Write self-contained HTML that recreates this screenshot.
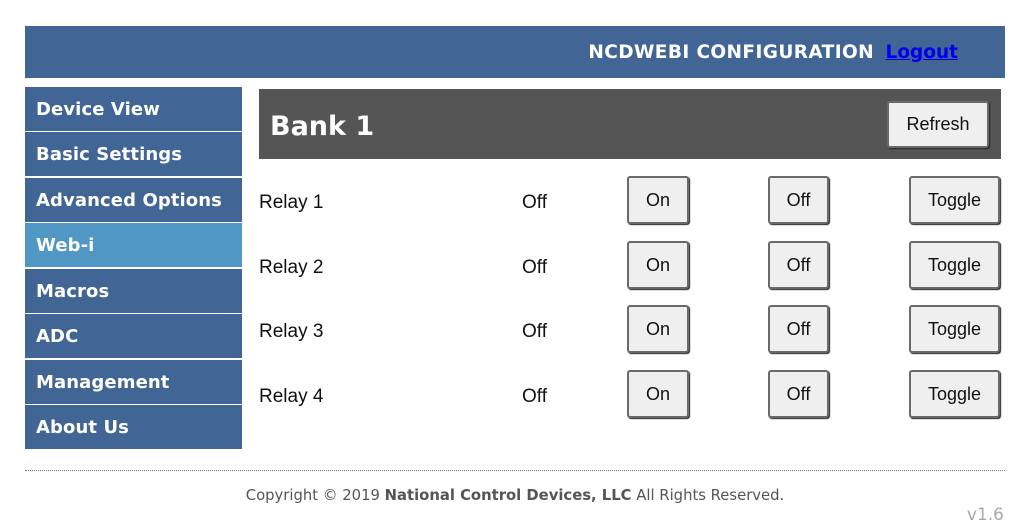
<!DOCTYPE html>
<html><head><style>
*{margin:0;padding:0;box-sizing:border-box}
body{width:1024px;height:531px;background:#fff;position:relative;overflow:hidden;font-family:"DejaVu Sans","Liberation Sans",sans-serif}
.abs{position:absolute}
#hdr{left:25px;top:26px;width:980px;height:52px;background:#416594}
#hdr .t{position:absolute;right:131px;top:16px;color:#fff;font-weight:bold;font-size:18.5px;letter-spacing:0.4px}
#hdr a{position:absolute;right:47px;top:16px;color:#0000ee;font-weight:bold;font-size:18.5px;text-decoration:underline}
.nav{left:25px;width:217px;height:44px;background:#416594;color:#fff;font-weight:bold;font-size:18px;padding:12px 0 0 11px;white-space:nowrap;letter-spacing:0.1px}
#bank{left:259px;top:89px;width:742px;height:70px;background:#555}
#bank .t{position:absolute;left:11px;top:22px;color:#fff;font-weight:bold;font-size:27px}
.btn{position:absolute;background:#efefef;border:2px solid #6a6a6a;border-radius:3px;box-shadow:1px 1px 1px #222;font-family:"Liberation Sans",sans-serif;font-size:18px;color:#111;text-align:center;line-height:45px}
.lbl{position:absolute;font-family:"Liberation Sans",sans-serif;font-size:19px;color:#111}
#foot{left:25px;top:470px;width:980px;border-top:1px dotted #777}
</style></head><body>
<div id="hdr" class="abs"><span class="t">NCDWEBI CONFIGURATION</span><a>Logout</a></div>
<div class="abs nav" style="top:87px">Device View</div>
<div class="abs nav" style="top:132px">Basic Settings</div>
<div class="abs nav" style="top:178px">Advanced Options</div>
<div class="abs nav" style="top:223px;background:#5097c6">Web-i</div>
<div class="abs nav" style="top:269px">Macros</div>
<div class="abs nav" style="top:314px">ADC</div>
<div class="abs nav" style="top:360px">Management</div>
<div class="abs nav" style="top:405px">About Us</div>
<div id="bank" class="abs"><span class="t">Bank 1</span>
<div class="btn" style="left:628px;top:12px;width:102px;height:47px;line-height:43px">Refresh</div></div>

<div class="lbl" style="left:259px;top:192px">Relay 1</div><div class="lbl" style="left:522px;top:192px">Off</div>
<div class="btn" style="left:627px;top:176px;width:62px;height:48px">On</div>
<div class="btn" style="left:768px;top:176px;width:61px;height:48px">Off</div>
<div class="btn" style="left:909px;top:176px;width:91px;height:48px">Toggle</div>

<div class="lbl" style="left:259px;top:257px">Relay 2</div><div class="lbl" style="left:522px;top:257px">Off</div>
<div class="btn" style="left:627px;top:241px;width:62px;height:48px">On</div>
<div class="btn" style="left:768px;top:241px;width:61px;height:48px">Off</div>
<div class="btn" style="left:909px;top:241px;width:91px;height:48px">Toggle</div>

<div class="lbl" style="left:259px;top:321px">Relay 3</div><div class="lbl" style="left:522px;top:321px">Off</div>
<div class="btn" style="left:627px;top:305px;width:62px;height:48px">On</div>
<div class="btn" style="left:768px;top:305px;width:61px;height:48px">Off</div>
<div class="btn" style="left:909px;top:305px;width:91px;height:48px">Toggle</div>

<div class="lbl" style="left:259px;top:386px">Relay 4</div><div class="lbl" style="left:522px;top:386px">Off</div>
<div class="btn" style="left:627px;top:370px;width:62px;height:48px">On</div>
<div class="btn" style="left:768px;top:370px;width:61px;height:48px">Off</div>
<div class="btn" style="left:909px;top:370px;width:91px;height:48px">Toggle</div>

<div id="foot" class="abs"></div>
<div class="abs" style="left:0;width:1030px;top:487px;text-align:center;font-size:14.8px;color:#555">Copyright © 2019 <b>National Control Devices, LLC</b> All Rights Reserved.</div>
<div class="abs" style="right:20px;top:505px;font-size:17px;color:#aaa">v1.6</div>
</body></html>
